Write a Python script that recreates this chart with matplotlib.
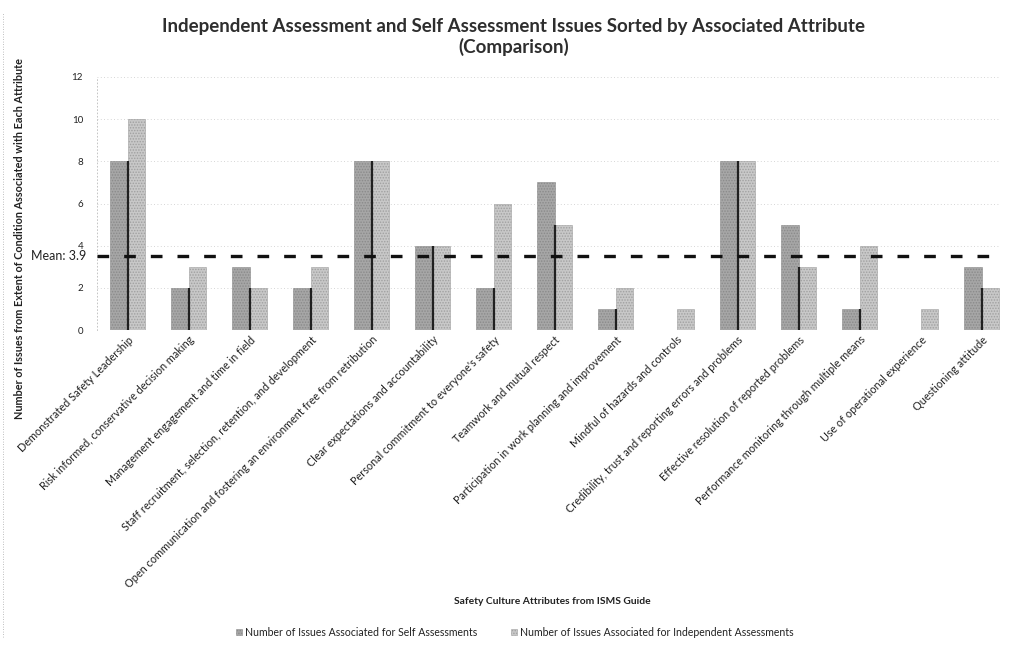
import numpy as np
import matplotlib
matplotlib.use("Agg")
import matplotlib.pyplot as plt
from matplotlib.patches import Patch

categories = [
    "Demonstrated Safety Leadership",
    "Risk informed, conservative decision making",
    "Management engagement and time in field",
    "Staff recruitment, selection, retention, and development",
    "Open communication and fostering an environment free from retribution",
    "Clear expectations and accountability",
    "Personal commitment to everyone's safety",
    "Teamwork and mutual respect",
    "Participation in work planning and improvement",
    "Mindful of hazards and controls",
    "Credibility, trust and reporting errors and problems",
    "Effective resolution of reported problems",
    "Performance monitoring through multiple means",
    "Use of operational experience",
    "Questioning attitude",
]
self_issues = [8, 2, 3, 2, 8, 4, 2, 7, 1, 0, 8, 5, 1, 0, 3]
indep_issues = [10, 3, 2, 3, 8, 4, 6, 5, 2, 1, 8, 3, 4, 1, 2]
mean_label = "Mean: 3.9"
mean_line_level = 3.5
yticks = [0, 2, 4, 6, 8, 10, 12]

plt.rcParams['font.family'] = ['Lato', 'DejaVu Sans']
plt.rcParams['hatch.linewidth'] = 0.7

fig = plt.figure(figsize=(10.13, 6.5), dpi=100)
W, H = 1013, 650
ax = fig.add_axes([97 / W, 320 / H, 903 / W, 253 / H])

x = np.arange(len(categories))
w = 0.285
plt.rcParams['hatch.color'] = '#5a5a5a'
ax.bar(x - w / 2, self_issues, w, color='#a6a6a6', edgecolor='#8a8a8a',
       linewidth=0.4, hatch='......', zorder=3)
plt.rcParams['hatch.color'] = '#848484'
ax.bar(x + w / 2, indep_issues, w, color='#c8c8c8', edgecolor='#a0a0a0',
       linewidth=0.4, hatch='......', zorder=3)
ax.vlines(x, 0, np.minimum(self_issues, indep_issues), color='#202020',
          linewidth=1.6, zorder=4)

ax.axhline(mean_line_level, color='#111111', linewidth=2.4,
           dashes=(3.5, 4.5), zorder=5)
ax.annotate(mean_label, xy=(0, mean_line_level), xycoords=('axes fraction', 'data'),
            xytext=(-11, 0), textcoords='offset pixels', ha='right', va='center',
            fontsize=9, color='#222222')

ax.set_xlim(-0.5, 14.3)
ax.set_ylim(0, 12)
ax.set_yticks(yticks)
ax.set_yticklabels([str(t) for t in yticks], fontsize=7, color='#222222')
ax.tick_params(axis='y', length=0, pad=10)
ax.tick_params(axis='x', length=0, pad=3)
ax.set_xticks(x)
ax.set_xticklabels(categories, rotation=45, ha='right', rotation_mode='anchor',
                   fontsize=7.8, color='#222222')
ax.yaxis.grid(True, linestyle=(0, (1, 3)), color='#c8c8c8', linewidth=0.6, zorder=0)
for s in ['top', 'right', 'bottom']:
    ax.spines[s].set_visible(False)
ax.spines['left'].set_linestyle((0, (1, 3)))
ax.spines['left'].set_color('#bbbbbb')
ax.spines['left'].set_linewidth(0.6)

ax.set_ylabel("Number of Issues from Extent of Condition Associated with Each Attribute",
              fontsize=7.8, color='#222222', fontweight='bold')
ax.yaxis.set_label_coords(-72 / 903, 0.36)

fig.text(514 / W, 1 - 37 / H,
         "Independent Assessment and Self Assessment Issues Sorted by Associated Attribute\n(Comparison)",
         ha='center', va='center', fontsize=13.5, fontweight='bold', color='#2e2e2e',
         linespacing=1.25)
fig.text(552 / W, 1 - 601 / H, "Safety Culture Attributes from ISMS Guide",
         ha='center', va='center', fontsize=7.4, fontweight='bold', color='#222222')

handles = [Patch(facecolor='#a6a6a6', edgecolor='#8a8a8a', hatch='......', linewidth=0.4),
           Patch(facecolor='#c8c8c8', edgecolor='#a0a0a0', hatch='......', linewidth=0.4)]
fig.legend(handles, ["Number of Issues Associated for Self Assessments",
                     "Number of Issues Associated for Independent Assessments"],
           loc='center', bbox_to_anchor=(515 / W, 1 - 632 / H), ncol=2, frameon=False,
           fontsize=7.6, handlelength=0.55, handleheight=0.55, handletextpad=0.3,
           columnspacing=3.2, labelcolor='#222222')

fig.add_artist(plt.Line2D([3 / W, 3 / W], [0.02, 0.98], transform=fig.transFigure,
                          color='#aaaaaa', linewidth=0.6, linestyle=(0, (1, 2))))

fig.savefig("out.png", dpi=100)
